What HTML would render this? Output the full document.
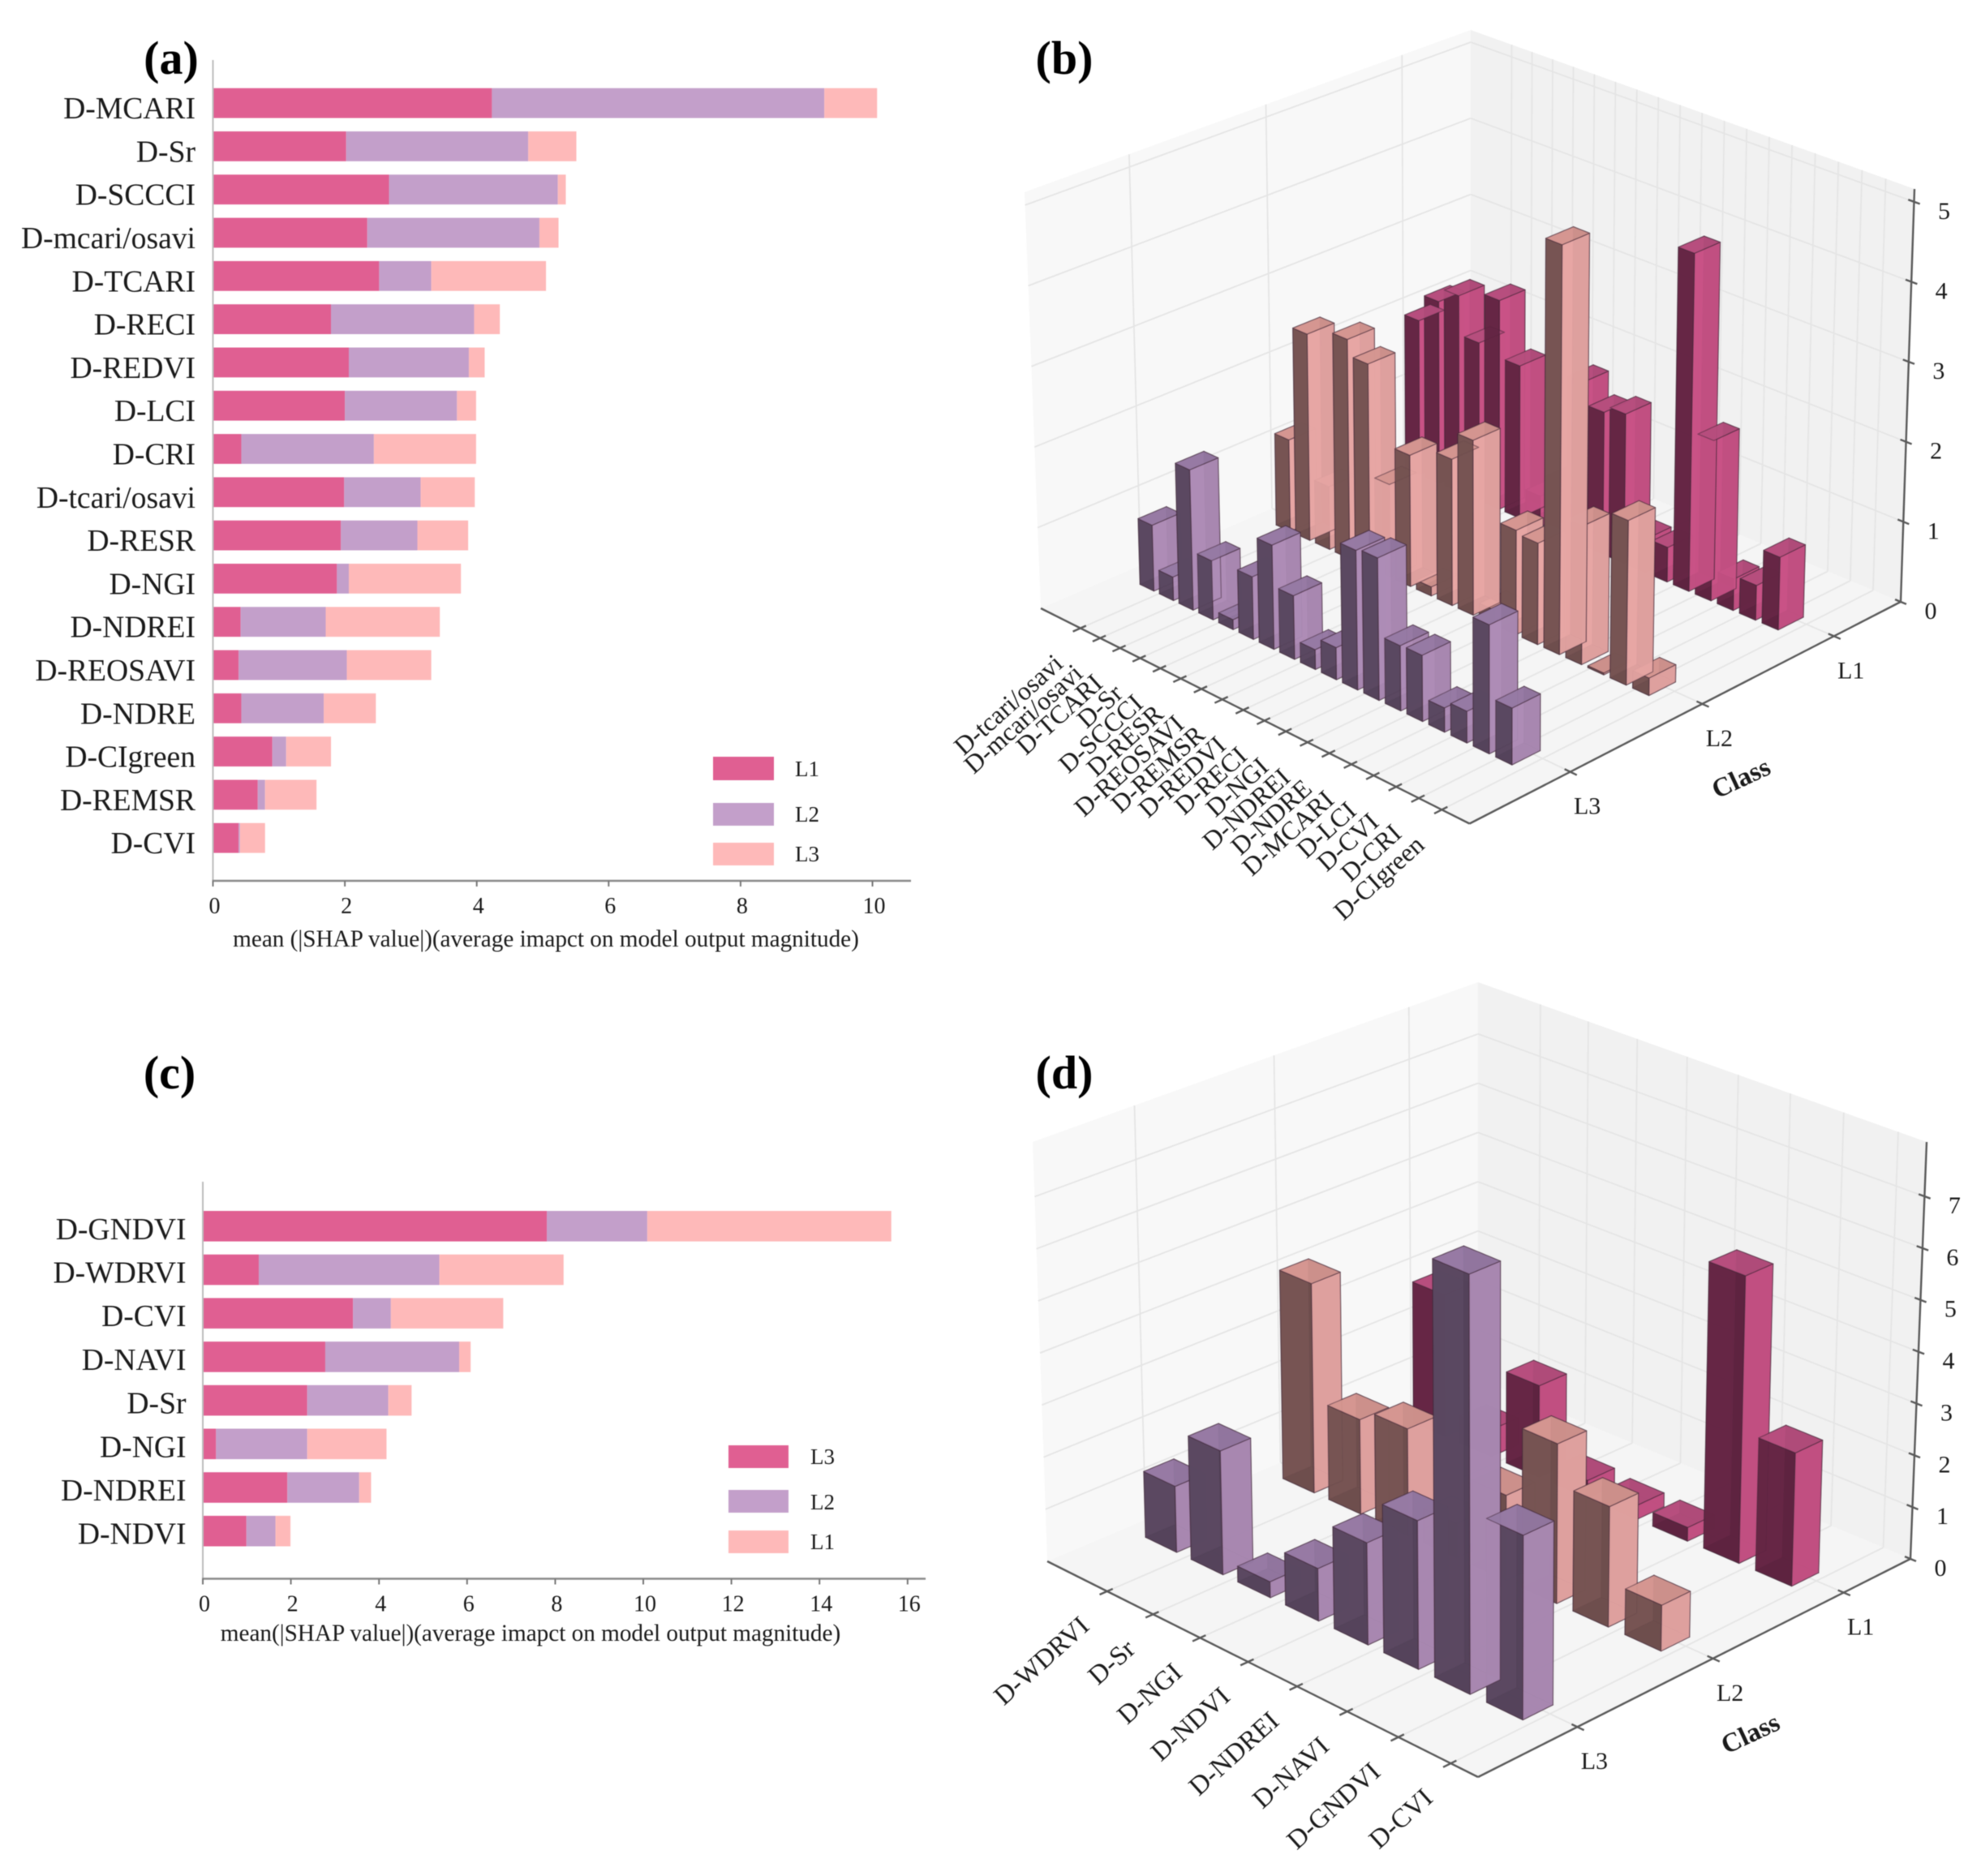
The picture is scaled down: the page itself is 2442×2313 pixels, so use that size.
<!DOCTYPE html>
<html>
<head>
<meta charset="utf-8">
<title>SHAP importance charts</title>
<style>
html,body{margin:0;padding:0;background:#fff;}
svg{display:block;filter:blur(.6px);}
text{font-family:"Liberation Serif",serif;fill:#1a1a1a;}
.ttl{font-size:58px;font-weight:bold;fill:#000;}
.cat{font-size:37.6px;}
.tick{font-size:28px;}
.axt{font-size:29.2px;}
.leg{font-size:27px;}
.lab3d{font-size:33px;}
.cls{font-size:30px;}
.clst{font-size:33px;font-weight:bold;}
</style>
</head>
<body>
<svg id="fig" width="2442" height="2313" viewBox="0 0 2442 2313" xmlns="http://www.w3.org/2000/svg">
<rect width="2442" height="2313" fill="#fff"/>
<text class="ttl" x="211" y="91" text-anchor="middle">(a)</text>
<text class="ttl" x="1312" y="91" text-anchor="middle">(b)</text>
<text class="ttl" x="209" y="1342" text-anchor="middle">(c)</text>
<text class="ttl" x="1312" y="1342" text-anchor="middle">(d)</text>
<g id="pa"></g>
<g id="pc"></g>
<g id="pb"></g>
<g id="pd"></g>
<g>
<rect x="879" y="933" width="75" height="29" fill="#e05f92"/>
<text class="leg" x="980" y="957">L1</text>
<rect x="879" y="990" width="75" height="28" fill="#c39fca"/>
<text class="leg" x="980" y="1013">L2</text>
<rect x="879" y="1039" width="75" height="28" fill="#feb9b9"/>
<text class="leg" x="980" y="1062">L3</text>
</g>
<g>
<rect x="898" y="1782" width="74" height="28" fill="#e05f92"/>
<text class="leg" x="999" y="1805">L3</text>
<rect x="898" y="1837" width="74" height="28" fill="#c39fca"/>
<text class="leg" x="999" y="1861">L2</text>
<rect x="898" y="1887" width="74" height="28" fill="#feb9b9"/>
<text class="leg" x="999" y="1910">L1</text>
</g>
</svg>
<script>
/* ---------- panel (a) data ---------- */
const aCategories = ["D-MCARI","D-Sr","D-SCCCI","D-mcari/osavi","D-TCARI","D-RECI","D-REDVI","D-LCI","D-CRI","D-tcari/osavi","D-RESR","D-NGI","D-NDREI","D-REOSAVI","D-NDRE","D-CIgreen","D-REMSR","D-CVI"];
const aL1 = [4.23,2.02,2.67,2.34,2.52,1.79,2.06,2.00,0.43,1.99,1.94,1.88,0.42,0.39,0.43,0.90,0.68,0.39];
const aL2 = [5.04,2.76,2.56,2.61,0.79,2.17,1.82,1.70,2.01,1.16,1.16,0.18,1.29,1.64,1.25,0.21,0.11,0.02];
const aL3 = [0.80,0.73,0.12,0.29,1.74,0.39,0.24,0.29,1.55,0.82,0.77,1.70,1.73,1.28,0.79,0.68,0.78,0.38];
const aTicks = [0,2,4,6,8,10];
/* ---------- panel (c) data ---------- */
const cCategories = ["D-GNDVI","D-WDRVI","D-CVI","D-NAVI","D-Sr","D-NGI","D-NDREI","D-NDVI"];
const cL3 = [7.81,1.27,3.41,2.78,2.37,0.30,1.92,0.99];
const cL2 = [2.28,4.10,0.86,3.04,1.84,2.07,1.63,0.66];
const cL1 = [5.54,2.82,2.55,0.26,0.53,1.80,0.27,0.34];
const cTicks = [0,2,4,6,8,10,12,14,16];
/* ---------- panel (b) data ---------- */
const bCategories = ["D-tcari/osavi","D-mcari/osavi","D-TCARI","D-Sr","D-SCCCI","D-RESR","D-REOSAVI","D-REMSR","D-REDVI","D-RECI","D-NGI","D-NDREI","D-NDRE","D-MCARI","D-LCI","D-CVI","D-CRI","D-CIgreen"];
const bL1 = [1.99,2.34,2.52,2.02,2.67,1.94,0.39,0.68,2.06,1.79,1.88,0.42,0.43,4.23,2.00,0.39,0.43,0.90];
const bL2 = [1.16,2.61,0.79,2.76,2.56,1.16,1.64,0.11,1.82,2.17,0.18,1.29,1.25,5.04,1.70,0.02,2.01,0.21];
const bL3 = [0.82,0.29,1.74,0.73,0.12,0.77,1.28,0.78,0.24,0.39,1.70,1.73,0.79,0.80,0.29,0.38,1.55,0.68];
const bZTicks = [0,1,2,3,4,5];
/* ---------- panel (d) data ---------- */
const dCategories = ["D-WDRVI","D-Sr","D-NGI","D-NDVI","D-NDREI","D-NAVI","D-GNDVI","D-CVI"];
const dL1 = [2.82,0.53,1.80,0.34,0.27,0.26,5.54,2.55];
const dL2 = [4.10,1.84,2.07,0.66,1.63,3.04,2.28,0.86];
const dL3 = [1.27,2.37,0.30,0.99,1.92,2.78,7.81,3.41];
const dZTicks = [0,1,2,3,4,5,6,7];
const classNames = ["L3","L2","L1"];

const NS = "http://www.w3.org/2000/svg";
function mk(tag, attrs, parent){
  const el = document.createElementNS(NS, tag);
  for (const k in attrs) el.setAttribute(k, attrs[k]);
  parent.appendChild(el);
  return el;
}
function slug(s){ return s.toLowerCase().replace(/[^a-z0-9]+/g,'-'); }

/* ---------- stacked bar charts ---------- */
function barChart(cfg){
  const g = document.getElementById(cfg.id);
  const sx = v => cfg.x0 + v * cfg.unit;
  const rowY = i => cfg.top + i * cfg.pitch;
  const colors = ["#e05f92","#c39fca","#feb9b9"];
  cfg.cats.forEach((name,i)=>{
    let acc = 0;
    cfg.series.forEach((s,k)=>{
      const r = mk('rect',{x:sx(acc),y:rowY(i),width:s.vals[i]*cfg.unit,height:cfg.h,fill:colors[k]},g);
      
      
      acc += s.vals[i];
    });
    const t = mk('text',{class:'cat',x:cfg.labelX,y:rowY(i)+cfg.h/2+cfg.labelDy,'text-anchor':'end'},g);
    t.textContent = name;
    
    
  });
  const ya = mk('line',{x1:cfg.x0,x2:cfg.x0,y1:cfg.axisTop,y2:cfg.axisY,stroke:'#bdbdbd','stroke-width':2},g);
  
  
  const xa = mk('line',{x1:cfg.x0-1,x2:cfg.axisEnd,y1:cfg.axisY,y2:cfg.axisY,stroke:'#8a8a8a','stroke-width':2.5},g);
  
  
  cfg.ticks.forEach(v=>{
    const l = mk('line',{x1:sx(v),x2:sx(v),y1:cfg.axisY,y2:cfg.axisY+7,stroke:'#777','stroke-width':2},g);
    
    
    const t = mk('text',{class:'tick',x:sx(v)+2,y:cfg.axisY+40,'text-anchor':'middle'},g);
    t.textContent = v;
    
    
  });
  const at = mk('text',{class:'axt',x:cfg.titleX,y:cfg.titleY,'text-anchor':'middle'},g);
  at.textContent = cfg.title;
  
  
}
barChart({id:'pa',cats:aCategories,series:[{name:'l1',vals:aL1},{name:'l2',vals:aL2},{name:'l3',vals:aL3}],
  x0:262.5,unit:81.3,top:108.7,pitch:53.3,h:36.8,labelX:241,labelDy:19,axisTop:74,axisY:1086,axisEnd:1123,
  ticks:aTicks,title:"mean (|SHAP value|)(average imapct on model output magnitude)",titleX:673,titleY:1167});
barChart({id:'pc',cats:cCategories,series:[{name:'l3',vals:cL3},{name:'l2',vals:cL2},{name:'l1',vals:cL1}],
  x0:250,unit:54.3,top:1493,pitch:53.7,h:37.6,labelX:229.5,labelDy:16,axisTop:1457,axisY:1946.5,axisEnd:1141,
  ticks:cTicks,title:"mean(|SHAP value|)(average imapct on model output magnitude)",titleX:654,titleY:2023});

/* ---------- 3D bar charts ---------- */
function homography(L,F,B,R){
  const dx1=F[0]-R[0],dy1=F[1]-R[1],dx2=B[0]-R[0],dy2=B[1]-R[1];
  const sx=L[0]-F[0]+R[0]-B[0],sy=L[1]-F[1]+R[1]-B[1];
  const det=dx1*dy2-dx2*dy1;
  const g=(sx*dy2-dx2*sy)/det,h=(dx1*sy-sx*dy1)/det;
  const a=F[0]-L[0]+g*F[0],b=B[0]-L[0]+h*B[0],c=L[0];
  const d=F[1]-L[1]+g*F[1],e=B[1]-L[1]+h*B[1],f=L[1];
  return {
    fwd(x,y){const w=g*x+h*y+1;return [(a*x+b*y+c)/w,(d*x+e*y+f)/w];},
    inv(X,Y){
      const a1=a-g*X,b1=b-h*X,c1=X-c,a2=d-g*Y,b2=e-h*Y,c2=Y-f;
      const D=a1*b2-a2*b1;
      return [(c1*b2-c2*b1)/D,(a1*c2-a2*c1)/D];
    }
  };
}
const palette3d = {
  L1:{top:'#b54d7d',dark:'#5e2240',light:'#c85285'},
  L2:{top:'#d3948f',dark:'#6e4e4c',light:'#e6a6a4'},
  L3:{top:'#9479a2',dark:'#54435a',light:'#ad8cb6'}
};
function bar3d(cfg){
  const root = document.getElementById(cfg.id);
  const floor = homography(cfg.L,cfg.F,cfg.B,cfg.R);
  const roof  = homography(cfg.TL,cfg.TF,cfg.TB,cfg.TR);
  const P = (x,y,z)=>{
    const a=floor.fwd(x,y),b=roof.fwd(x,y),t=z/cfg.zmax;
    return [a[0]+(b[0]-a[0])*t,a[1]+(b[1]-a[1])*t];
  };
  const pts = arr => arr.map(p=>p[0].toFixed(1)+','+p[1].toFixed(1)).join(' ');
  const n = cfg.cats.length;
  /* category + class axes in floor coordinates */
  const a0 = floor.inv(cfg.firstBar[0],cfg.firstBar[1]);
  const a1 = floor.inv(cfg.lastBar[0],cfg.lastBar[1]);
  const a2 = floor.inv(cfg.lastFar[0],cfg.lastFar[1]);
  const barX = i => a0[0]+(a1[0]-a0[0])*i/(n-1);
  const barY = j => a1[1]+(a2[1]-a1[1])*j/2;
  const t0 = floor.inv(cfg.firstTick[0],cfg.firstTick[1])[0];
  const t1 = floor.inv(cfg.lastTick[0],cfg.lastTick[1])[0];
  const tickX = i => t0+(t1-t0)*i/(n-1);
  const clsY = cfg.classTicks.map(p=>floor.inv(p[0],p[1])[1]);

  /* panes */
  const pane=(name,arr,fill)=>{
    const e=mk('polygon',{points:pts(arr),fill:fill},root);
    
    
  };
  pane('left-wall',[P(0,0,0),P(0,1,0),P(0,1,cfg.zmax),P(0,0,cfg.zmax)],'#f8f8f8');
  pane('right-wall',[P(0,1,0),P(1,1,0),P(1,1,cfg.zmax),P(0,1,cfg.zmax)],'#f1f1f1');
  pane('floor',[P(0,0,0),P(1,0,0),P(1,1,0),P(0,1,0)],'#f5f5f5');
  const grid=mk('g',{stroke:'#e5e5e5','stroke-width':1.8,fill:'none'},root);
  
  
  const seg=(g,p,q)=>mk('line',{x1:p[0],y1:p[1],x2:q[0],y2:q[1]},g);
  for(let i=0;i<n;i++){
    const xx=tickX(i);
    seg(grid,P(xx,0,0),P(xx,1,0));
    seg(grid,P(xx,1,0),P(xx,1,cfg.zmax));
  }
  clsY.forEach(yy=>{
    seg(grid,P(0,yy,0),P(1,yy,0));
    seg(grid,P(0,yy,0),P(0,yy,cfg.zmax));
  });
  cfg.zTicks.forEach(z=>{
    if(z===0) return;
    seg(grid,P(0,0,z),P(0,1,z));
    seg(grid,P(0,1,z),P(1,1,z));
  });
  /* axes */
  const axes=mk('g',{stroke:'#5a5a5a','stroke-width':2.4,fill:'none'},root);
  
  
  seg(axes,P(0,0,0),P(1,0,0));
  seg(axes,P(1,0,0),P(1,1,0));
  seg(axes,P(1,1,0),P(1,1,cfg.zmax));
  for(let i=0;i<n;i++){
    seg(axes,P(tickX(i),-0.016,0),P(tickX(i),0.012,0));
    const lab=P(tickX(i),0,0);
    const lx=lab[0]-27,ly=lab[1]+38;
    const t=mk('text',{class:'lab3d','text-anchor':'end','dominant-baseline':'central',
      transform:'translate('+lx.toFixed(1)+','+ly.toFixed(1)+') rotate(-42)',style:'font-size:'+cfg.labelSize+'px'},root);
    t.textContent=cfg.cats[i];
    
    
  }
  clsY.forEach((yy,j)=>{
    seg(axes,P(1-0.012,yy,0),P(1+0.014,yy,0));
    const p=P(1,yy,0);
    const t=mk('text',{class:'cls',x:p[0]+21,y:p[1]+52,'text-anchor':'middle'},root);
    t.textContent=classNames[j];
    
    
  });
  const ct=mk('text',{class:'clst','text-anchor':'middle','dominant-baseline':'central',
    transform:'translate('+cfg.classTitle[0]+','+cfg.classTitle[1]+') rotate(-25)'},root);
  ct.textContent='Class';
  
  
  cfg.zTicks.forEach(z=>{
    seg(axes,P(1-0.012,1,z),P(1+0.012,1,z));
    const p=P(1,1,z);
    const t=mk('text',{class:'cls',x:p[0]+37,y:p[1]+21,'text-anchor':'middle'},root);
    t.textContent=z;
    
    
  });
  /* bars: every face is depth-sorted by its mean view depth (no per-bar grouping) */
  const depth=(v)=>0.612*(v[0]-v[1])+0.31*(v[2]/cfg.zmax);
  const faces=[];
  for(let j=2;j>=0;j--){
    const cname=classNames[j];
    const vals=cfg.series[cname];
    const col=palette3d[cname];
    for(let i=0;i<n;i++){
      const h=vals[i];
      const x1=barX(i),x0=x1-cfg.dx,y0=barY(j),y1=y0+cfg.dy;
      const base=slug(cfg.cats[i])+'-'+cname.toLowerCase();
      faces.push({id:base+'-bottom',fill:col.dark,v:[[x0,y0,0],[x1,y0,0],[x1,y1,0],[x0,y1,0]]});
      faces.push({id:base+'-back-left',fill:col.light,v:[[x0,y0,0],[x0,y1,0],[x0,y1,h],[x0,y0,h]]});
      faces.push({id:base+'-back-right',fill:col.dark,v:[[x0,y1,0],[x1,y1,0],[x1,y1,h],[x0,y1,h]]});
      faces.push({id:base+'-dark-side',fill:col.dark,v:[[x0,y0,0],[x1,y0,0],[x1,y0,h],[x0,y0,h]]});
      faces.push({id:base+'-light-side',fill:col.light,v:[[x1,y0,0],[x1,y1,0],[x1,y1,h],[x1,y0,h]]});
      faces.push({id:base+'-top',fill:col.top,v:[[x0,y0,h],[x1,y0,h],[x1,y1,h],[x0,y1,h]]});
    }
  }
  faces.forEach(f=>{f.d=f.v.reduce((s,v)=>s+depth(v),0)/4;});
  faces.sort((p,q)=>p.d-q.d);
  const bars=mk('g',{stroke:'rgba(60,35,50,.45)','stroke-width':1.3,'stroke-linejoin':'round'},root);
  
  
  faces.forEach(f=>{
    const e=mk('polygon',{points:pts(f.v.map(v=>P(v[0],v[1],v[2]))),fill:f.fill,'fill-opacity':0.93},bars);
    
    
  });
}
bar3d({id:'pb',cats:bCategories,series:{L1:bL1,L2:bL2,L3:bL3},zTicks:bZTicks,zmax:5.16,labelSize:32,
  L:[1283,750],F:[1811.5,1015.5],B:[1813,521],R:[2343,742],
  TL:[1263,237],TF:[1810,478],TB:[1813,37],TR:[2360,233],
  firstBar:[1419.4,730],lastBar:[1863.8,943],lastFar:[2209,784],
  firstTick:[1326.7,776.8],lastTick:[1776.6,998.7],
  classTicks:[[1940.6,954],[2105.3,871],[2269.3,788]],
  dx:0.035,dy:0.062,classTitle:[2146.5,960]});
bar3d({id:'pd',cats:dCategories,series:{L1:dL1,L2:dL2,L3:dL3},zTicks:dZTicks,zmax:8.05,labelSize:33,
  L:[1291,1925],F:[1822,2191],B:[1822,1700],R:[2355,1922],
  TL:[1273,1408],TF:[1821,1646],TB:[1822,1211],TR:[2375,1408],
  firstBar:[1447,1915.4],lastBar:[1877.2,2120.5],lastFar:[2212,1957],
  firstTick:[1362.4,1963],lastTick:[1784.6,2176],
  classTicks:[[1946,2130],[2116.4,2047],[2279.6,1966.5]],
  dx:0.078,dy:0.066,classTitle:[2158,2138]});
</script>
</body>
</html>
